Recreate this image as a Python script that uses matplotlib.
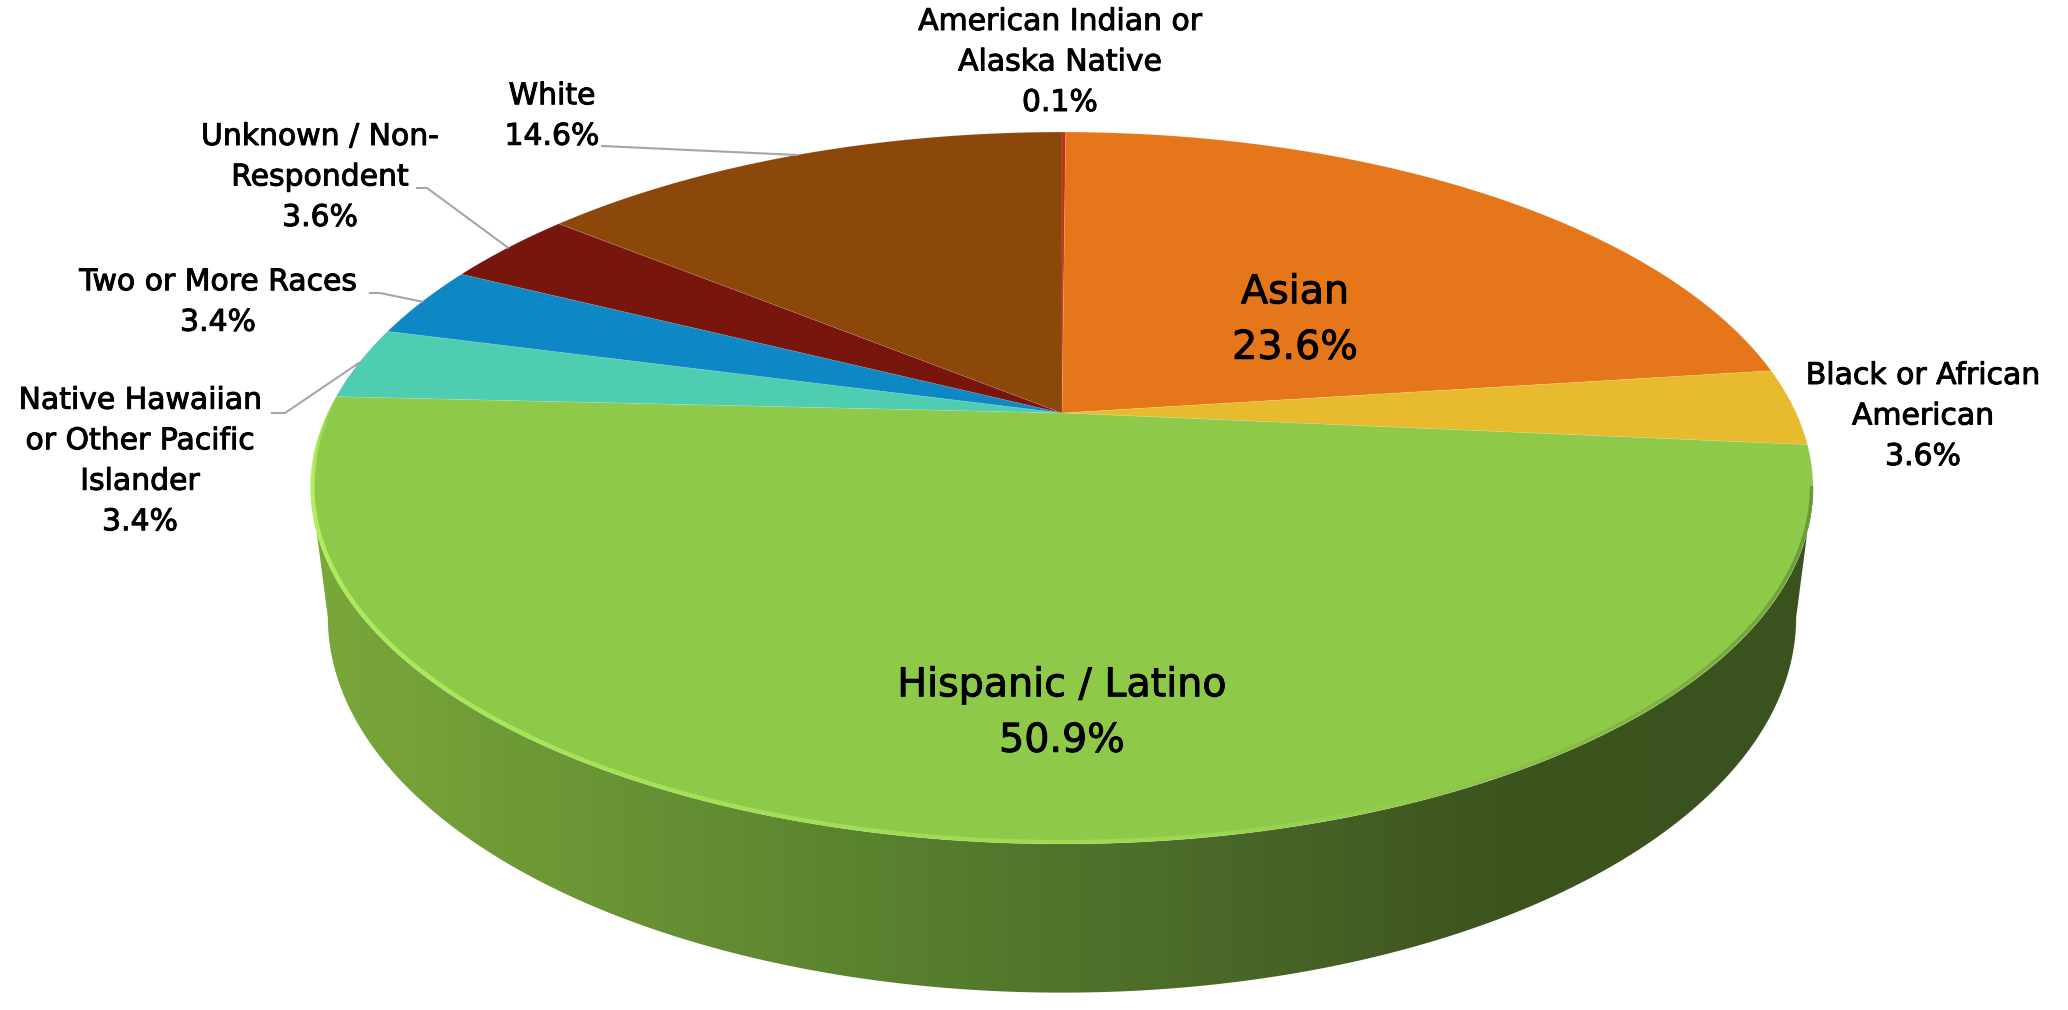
import numpy as np
import matplotlib.pyplot as plt
import matplotlib.patheffects as pe
from matplotlib.patches import Polygon
from matplotlib.collections import LineCollection
from matplotlib.colors import LinearSegmentedColormap

# data, clockwise from 12 o'clock
categories = ["American Indian or\nAlaska Native", "Asian", "Black or African\nAmerican",
              "Hispanic / Latino", "Native Hawaiian\nor Other Pacific\nIslander",
              "Two or More Races", "Unknown / Non-\nRespondent", "White"]
percents = [0.1, 23.6, 3.6, 50.9, 3.4, 3.4, 3.6, 14.6]
colors = ["#C62A14", "#E6761A", "#E8BA2E", "#8FC94A", "#4ECDB0", "#0E87C5", "#78150C", "#8C470A"]

# label layout in pixels (x, y of text block centre)
label_pos = [(1060, 62), (1295, 320), (1923, 416), (1062, 713),
             (140, 461), (218, 302), (320, 177), (552, 116)]
label_size = [21.5, 28.5, 21.5, 28.5, 21.5, 21.5, 21.5, 21.5]
# leader start (x, y) at the text and x of the knee, None = no leader
leaders = [None, None, None, None, (272, 413, 285), (370, 293, 380), (417, 188, 427), (602, 146, 602)]

W, H = 2068, 1010
CX, CY = 1062, 413
F, D = 3088, 4.206
ELEV = np.radians(27.6)
DEPTH = 0.2
s, c = np.sin(ELEV), np.cos(ELEV)


def project(theta, z=0.0):
    # perspective view of a point on the unit circle at height z
    x = np.cos(theta)
    y = np.sin(theta)
    depth = D + c * y - s * z
    v = s * y + c * z
    return CX + F * x / depth, CY - F * v / depth


fig = plt.figure(figsize=(W / 100, H / 100), dpi=100)
ax = fig.add_axes([0, 0, 1, 1])

total = sum(percents)
cum = np.concatenate([[0], np.cumsum(percents)])
bounds = np.pi / 2 - 2 * np.pi * cum / total

# side wall (only the front half can be seen)
tl = np.pi + np.arcsin(c / D)
tr = 2 * np.pi - np.arcsin(c / D)
db = D + s * DEPTH
bl = np.pi + np.arcsin(c / db)
br = 2 * np.pi - np.arcsin(c / db)
t_top = np.linspace(tl, tr, 300)
t_bot = np.linspace(br, bl, 300)
xt, yt = project(t_top)
xb, yb = project(t_bot, -DEPTH)
wall = Polygon(np.column_stack([np.r_[xt, xb], np.r_[yt, yb]]), closed=True,
               facecolor="none", edgecolor="none")
ax.add_patch(wall)
wall_cmap = LinearSegmentedColormap.from_list(
    "wall", [(0, "#7AA83A"), (0.39, "#58802F"), (0.66, "#466226"), (0.79, "#3C541E"), (1, "#3A521D")])
x0, x1 = min(xt.min(), xb.min()), max(xt.max(), xb.max())
grad = np.linspace(0, 1, 512).reshape(1, -1)
img = ax.imshow(grad, cmap=wall_cmap, extent=(x0, x1, yb.max() + 5, yt.min() - 5),
                aspect="auto", zorder=1, interpolation="bilinear")
img.set_clip_path(wall)

# top face
for i in range(len(percents)):
    a0, a1 = bounds[i], bounds[i + 1]
    n = max(3, int(abs(a0 - a1) / 0.005))
    th = np.linspace(a0, a1, n)
    px, py = project(th)
    pts = np.column_stack([np.r_[CX, px], np.r_[CY, py]])
    ax.add_patch(Polygon(pts, closed=True, facecolor=colors[i],
                         edgecolor=(1, 1, 1, 0.12), linewidth=0.6, zorder=2))

# bevel highlight on the green rim, bright on the left, fading to the right
t_start = bounds[4] + 2 * np.pi + 0.01
th = np.linspace(t_start, tr, 260)
rx, ry = project(th)
ry = ry - 2
rx = rx + 1.5 * np.cos(th) * -1
segs = np.stack([np.column_stack([rx[:-1], ry[:-1]]), np.column_stack([rx[1:], ry[1:]])], axis=1)
k = np.linspace(0, 1, len(segs))
rim_cols = np.zeros((len(segs), 4))
rim_cols[:, :3] = np.array([0.72, 0.96, 0.38])
rim_cols[:, 3] = np.clip(np.minimum(k * 12, 0.9 - 1.1 * (k - 0.08)), 0, 0.9)
ax.add_collection(LineCollection(segs, colors=rim_cols, linewidths=3.0, zorder=3))
shade_cols = np.zeros((len(segs), 4))
shade_cols[:, :3] = np.array([0.25, 0.36, 0.12])
shade_cols[:, 3] = np.clip((k - 0.6) * 1.2, 0, 0.45)
ax.add_collection(LineCollection(segs, colors=shade_cols, linewidths=2.5, zorder=3))

# labels and leader lines
for i, name in enumerate(categories):
    lx, ly = label_pos[i]
    ax.text(lx, ly, f"{name}\n{percents[i]}%", ha="center", va="center",
            fontsize=label_size[i], family="DejaVu Sans", color="black",
            linespacing=1.5, zorder=5,
            path_effects=[pe.withStroke(linewidth=0.7, foreground="black")])
    if leaders[i] is not None:
        sx, sy, kx = leaders[i]
        mid = (bounds[i] + bounds[i + 1]) / 2
        ex, ey = project(mid)
        ax.plot([sx, kx, ex], [sy, sy, ey], color="#A6A6A6", linewidth=1.5, zorder=4)

ax.set_xlim(0, W)
ax.set_ylim(H, 0)
ax.axis("off")
fig.savefig("out.png", dpi=100, facecolor="white")
